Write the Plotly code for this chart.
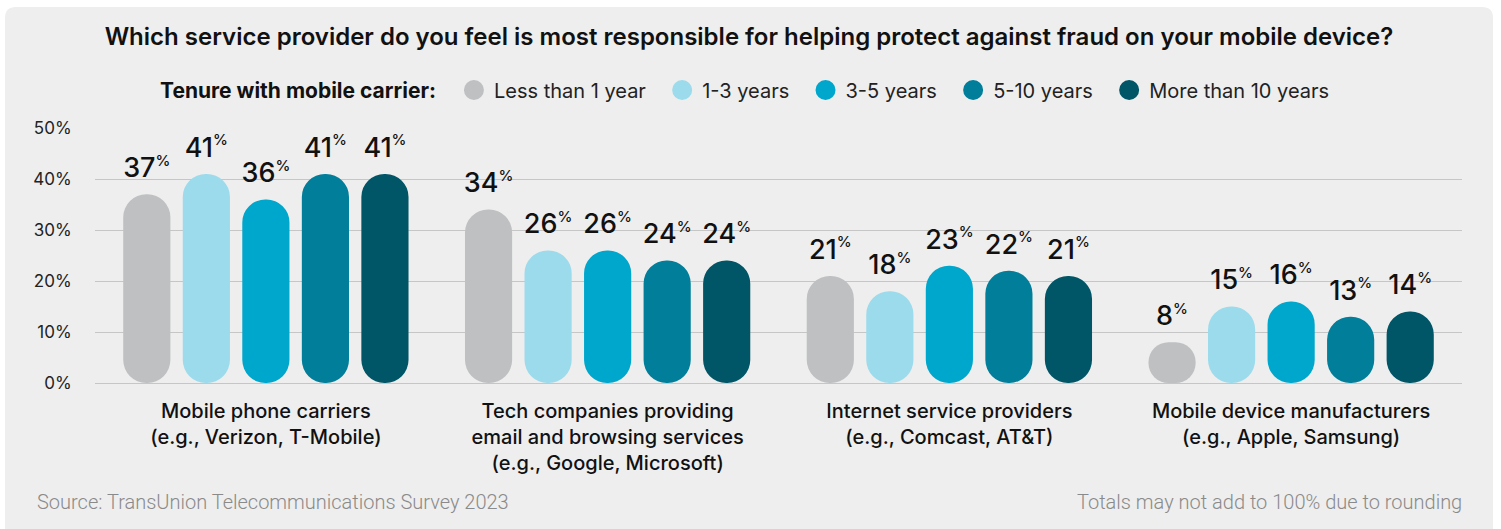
import plotly.graph_objects as go

# ---------------- data ----------------
categories = [
    "Mobile phone carriers<br>(e.g., Verizon, T-Mobile)",
    "Tech companies providing<br>email and browsing services<br>(e.g., Google, Microsoft)",
    "Internet service providers<br>(e.g., Comcast, AT&amp;T)",
    "Mobile device manufacturers<br>(e.g., Apple, Samsung)",
]
series_names = ["Less than 1 year", "1-3 years", "3-5 years", "5-10 years", "More than 10 years"]
less_than_1_year = [37, 34, 21, 8]
years_1_3 = [41, 26, 18, 15]
years_3_5 = [36, 26, 23, 16]
years_5_10 = [41, 24, 22, 13]
more_than_10_years = [41, 24, 21, 14]
series_values = [less_than_1_year, years_1_3, years_3_5, years_5_10, more_than_10_years]
colors = ["#bfc0c2", "#9cdbec", "#00a7cc", "#007e9a", "#005567"]
y_ticks = [0, 10, 20, 30, 40, 50]
y_tick_labels = ["0%", "10%", "20%", "30%", "40%", "50%"]

title_text = "Which service provider do you feel is most responsible for helping protect against fraud on your mobile device?"
legend_title = "Tenure with mobile carrier:"
source_text = "Source: TransUnion Telecommunications Survey 2023"
note_text = "Totals may not add to 100% due to rounding"

# ---------------- layout geometry ----------------
W, H = 1501, 529
ML, MR, MT, MB = 95, 39, 128, 146
PW, PH = W - ML - MR, H - MT - MB


def px_x(p):
    return (p - ML) / PW


def px_y(p):
    return (H - MB - p) / PH


slot = 0.1742
bar_w = 0.138
first_offset = -0.4174
label_pad = 1.4  # gap (in axis units) between bar end and its label

fig = go.Figure()

for i, (name, vals, col) in enumerate(zip(series_names, series_values, colors)):
    off = first_offset + i * slot
    # pill-shaped bar
    fig.add_trace(go.Bar(
        x=categories, y=vals, base=[0] * len(vals),
        marker=dict(color=col, cornerradius="50%", line=dict(width=0)),
        width=bar_w, offset=off, showlegend=False,
        hovertemplate=f"{name}: %{{y}}%<extra></extra>",
    ))
    # invisible carrier for the value label
    fig.add_trace(go.Bar(
        x=categories, y=[label_pad] * len(vals), base=vals,
        marker=dict(color="rgba(0,0,0,0)", line=dict(width=0)),
        width=bar_w, offset=off, showlegend=False, hoverinfo="skip",
        text=[f"{v}<sup><span style='font-size:15px'>%</span></sup>" for v in vals],
        textposition="outside", constraintext="none", cliponaxis=False,
        textfont=dict(family="Inter", size=27, color="#111111", weight=500),
    ))

for name, col in zip(series_names, colors):
    fig.add_trace(go.Scatter(
        x=[categories[0]], y=[None], mode="markers", name=name + "\u00a0\u00a0",
        marker=dict(size=16, color=col, line=dict(width=4, color=col)),
    ))

# background panel with rounded corners
r = 11
x0, x1, y0, y1 = 5, 1493, 7, 540
path = (
    f"M {px_x(x0 + r)} {px_y(y0)} L {px_x(x1 - r)} {px_y(y0)} "
    f"Q {px_x(x1)} {px_y(y0)} {px_x(x1)} {px_y(y0 + r)} "
    f"L {px_x(x1)} {px_y(y1)} L {px_x(x0)} {px_y(y1)} "
    f"L {px_x(x0)} {px_y(y0 + r)} Q {px_x(x0)} {px_y(y0)} {px_x(x0 + r)} {px_y(y0)} Z"
)

fig.update_layout(
    width=W, height=H,
    margin=dict(l=ML, r=MR, t=MT, b=MB),
    paper_bgcolor="#ffffff", plot_bgcolor="rgba(0,0,0,0)",
    barmode="overlay",
    shapes=[dict(type="path", xref="paper", yref="paper", path=path,
                 fillcolor="#eeeeee", line=dict(width=0), layer="below")],
    title=dict(text=title_text, x=0.499, xanchor="center", y=1 - 37 / H, yanchor="middle",
               font=dict(family="Inter", size=24, color="#111111", weight=600)),
    legend=dict(
        orientation="h", x=px_x(752), xanchor="center", y=px_y(90), yanchor="middle",
        title=dict(text=legend_title + "\u00a0\u00a0", side="left",
                   font=dict(family="Inter", size=21, color="#111111", weight=700)),
        font=dict(family="Inter", size=20, color="#222222"),
        bgcolor="rgba(0,0,0,0)", itemclick=False, itemdoubleclick=False,
    ),
    font=dict(family="Inter", color="#222222"),
    annotations=[
        dict(text=source_text, xref="paper", yref="paper", x=px_x(35), y=px_y(502),
             xanchor="left", yanchor="middle", showarrow=False,
             font=dict(family="Roboto", size=20, color="#8a8a8a", weight=300)),
        dict(text=note_text, xref="paper", yref="paper", x=px_x(1464), y=px_y(502),
             xanchor="right", yanchor="middle", showarrow=False,
             font=dict(family="Roboto", size=20, color="#8a8a8a", weight=300)),
    ],
)

fig.update_yaxes(
    range=[0, 50], tickmode="array", tickvals=y_ticks, ticktext=y_tick_labels,
    showgrid=True, gridcolor="#c6c6c6", gridwidth=1,
    zeroline=True, zerolinecolor="#c6c6c6", zerolinewidth=1,
    ticks="outside", ticklen=19, tickcolor="rgba(0,0,0,0)",
    tickfont=dict(family="Inter", size=17, color="#222222"),
    fixedrange=True,
)
fig.update_xaxes(
    showgrid=False, showline=False, ticks="outside", ticklen=10, tickcolor="rgba(0,0,0,0)",
    tickfont=dict(family="Inter", size=20, color="#111111", weight=500),
    fixedrange=True,
)

fig.write_html("out.html")
